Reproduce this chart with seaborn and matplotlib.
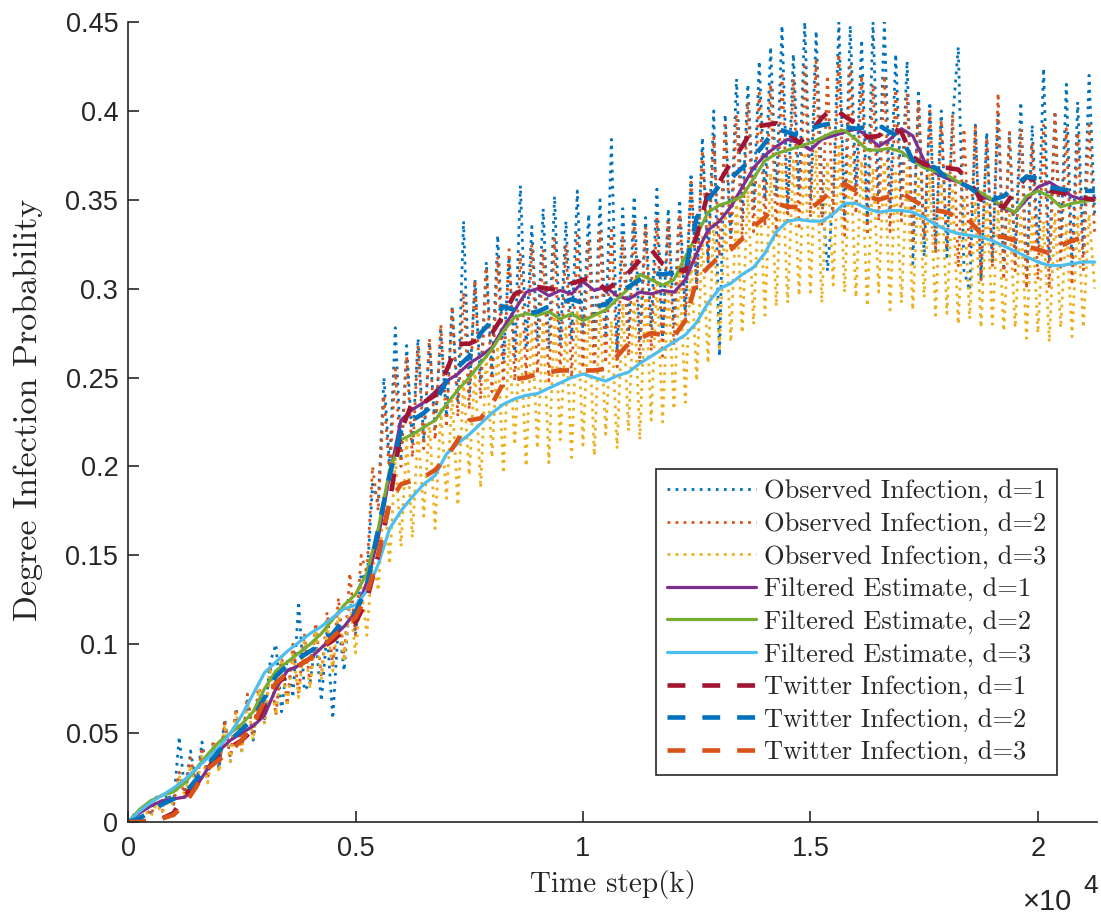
import numpy as np
import pandas as pd
import matplotlib
matplotlib.use("Agg")
import matplotlib.pyplot as plt
import seaborn as sns

# ---------------- data ----------------
# observed series sampled every 125 time steps (0 .. 21250)
t_obs = np.arange(0, 21251, 125)
obs_d1 = [
    0.000, 0.004, 0.002, 0.010, 0.005, 0.014, 0.008, 0.016,
    0.010, 0.048, 0.016, 0.040, 0.020, 0.045, 0.026, 0.044,
    0.030, 0.058, 0.034, 0.064, 0.040, 0.070, 0.046, 0.068,
    0.058, 0.090, 0.100, 0.062, 0.092, 0.070, 0.124, 0.074,
    0.078, 0.102, 0.068, 0.108, 0.058, 0.112, 0.085, 0.125,
    0.105, 0.140, 0.135, 0.190, 0.180, 0.250, 0.200, 0.278,
    0.205, 0.268, 0.212, 0.272, 0.215, 0.270, 0.222, 0.276,
    0.228, 0.290, 0.236, 0.338, 0.240, 0.305, 0.248, 0.315,
    0.252, 0.330, 0.260, 0.318, 0.262, 0.358, 0.268, 0.335,
    0.270, 0.345, 0.266, 0.352, 0.268, 0.338, 0.272, 0.355,
    0.275, 0.342, 0.268, 0.350, 0.272, 0.384, 0.265, 0.345,
    0.275, 0.352, 0.270, 0.340, 0.278, 0.356, 0.272, 0.345,
    0.280, 0.350, 0.285, 0.365, 0.300, 0.385, 0.315, 0.400,
    0.262, 0.398, 0.330, 0.418, 0.340, 0.415, 0.345, 0.428,
    0.350, 0.436, 0.352, 0.448, 0.345, 0.432, 0.355, 0.450,
    0.350, 0.445, 0.358, 0.310, 0.352, 0.450, 0.340, 0.448,
    0.355, 0.440, 0.338, 0.450, 0.350, 0.450, 0.345, 0.432,
    0.350, 0.428, 0.314, 0.412, 0.318, 0.405, 0.322, 0.400,
    0.318, 0.395, 0.436, 0.310, 0.299, 0.392, 0.305, 0.388,
    0.315, 0.398, 0.310, 0.388, 0.318, 0.405, 0.305, 0.392,
    0.320, 0.424, 0.315, 0.400, 0.325, 0.415, 0.312, 0.405,
    0.320, 0.420, 0.340,
]
obs_d2 = [
    0.000, 0.003, 0.001, 0.008, 0.004, 0.012, 0.006, 0.014,
    0.010, 0.028, 0.014, 0.036, 0.020, 0.042, 0.024, 0.046,
    0.030, 0.056, 0.036, 0.064, 0.042, 0.072, 0.048, 0.078,
    0.055, 0.088, 0.060, 0.094, 0.066, 0.100, 0.072, 0.106,
    0.078, 0.112, 0.082, 0.118, 0.088, 0.126, 0.092, 0.140,
    0.105, 0.150, 0.140, 0.200, 0.175, 0.240, 0.195, 0.255,
    0.200, 0.262, 0.205, 0.268, 0.210, 0.272, 0.215, 0.280,
    0.222, 0.290, 0.228, 0.298, 0.232, 0.305, 0.238, 0.312,
    0.242, 0.318, 0.245, 0.322, 0.248, 0.320, 0.250, 0.325,
    0.252, 0.322, 0.248, 0.328, 0.252, 0.325, 0.250, 0.330,
    0.255, 0.328, 0.252, 0.332, 0.258, 0.335, 0.256, 0.330,
    0.262, 0.338, 0.258, 0.335, 0.265, 0.340, 0.262, 0.338,
    0.268, 0.342, 0.280, 0.360, 0.300, 0.378, 0.315, 0.385,
    0.318, 0.392, 0.322, 0.398, 0.328, 0.405, 0.332, 0.410,
    0.335, 0.415, 0.330, 0.420, 0.338, 0.418, 0.335, 0.425,
    0.340, 0.428, 0.335, 0.420, 0.342, 0.432, 0.330, 0.425,
    0.342, 0.420, 0.330, 0.415, 0.338, 0.420, 0.332, 0.412,
    0.338, 0.410, 0.325, 0.405, 0.328, 0.400, 0.320, 0.395,
    0.322, 0.398, 0.312, 0.390, 0.318, 0.392, 0.305, 0.385,
    0.312, 0.410, 0.305, 0.388, 0.310, 0.390, 0.300, 0.382,
    0.305, 0.392, 0.300, 0.398, 0.312, 0.390, 0.302, 0.388,
    0.310, 0.392, 0.330,
]
obs_d3 = [
    0.000, 0.002, 0.001, 0.006, 0.003, 0.010, 0.005, 0.012,
    0.010, 0.026, 0.014, 0.032, 0.018, 0.038, 0.022, 0.044,
    0.028, 0.055, 0.034, 0.062, 0.040, 0.068, 0.046, 0.075,
    0.055, 0.085, 0.060, 0.092, 0.065, 0.096, 0.070, 0.102,
    0.075, 0.108, 0.080, 0.112, 0.085, 0.118, 0.090, 0.125,
    0.095, 0.132, 0.105, 0.150, 0.130, 0.185, 0.145, 0.205,
    0.155, 0.215, 0.160, 0.220, 0.172, 0.225, 0.165, 0.232,
    0.182, 0.240, 0.178, 0.248, 0.195, 0.255, 0.188, 0.262,
    0.205, 0.268, 0.196, 0.272, 0.212, 0.276, 0.200, 0.280,
    0.210, 0.282, 0.202, 0.285, 0.215, 0.278, 0.205, 0.288,
    0.212, 0.285, 0.206, 0.290, 0.218, 0.282, 0.210, 0.292,
    0.220, 0.298, 0.215, 0.300, 0.226, 0.305, 0.225, 0.302,
    0.232, 0.310, 0.236, 0.318, 0.248, 0.330, 0.258, 0.338,
    0.265, 0.342, 0.270, 0.350, 0.275, 0.355, 0.280, 0.360,
    0.285, 0.365, 0.290, 0.370, 0.292, 0.372, 0.296, 0.375,
    0.298, 0.378, 0.292, 0.372, 0.302, 0.380, 0.298, 0.376,
    0.295, 0.372, 0.290, 0.368, 0.298, 0.372, 0.288, 0.365,
    0.292, 0.368, 0.288, 0.362, 0.295, 0.365, 0.285, 0.360,
    0.286, 0.355, 0.280, 0.352, 0.283, 0.348, 0.278, 0.350,
    0.280, 0.345, 0.276, 0.342, 0.278, 0.340, 0.272, 0.342,
    0.275, 0.338, 0.270, 0.342, 0.278, 0.336, 0.273, 0.340,
    0.278, 0.342, 0.300,
]

# filtered estimates and twitter infection sampled every 250 steps
t_est = np.arange(0, 21251, 250)
filt_d1 = [
    0.000, 0.005, 0.009, 0.012, 0.013, 0.014, 0.020, 0.030,
    0.040, 0.046, 0.050, 0.054, 0.060, 0.075, 0.085, 0.088,
    0.092, 0.098, 0.104, 0.110, 0.118, 0.135, 0.160, 0.195,
    0.226, 0.232, 0.236, 0.242, 0.248, 0.252, 0.258, 0.262,
    0.267, 0.278, 0.288, 0.298, 0.300, 0.296, 0.299, 0.297,
    0.304, 0.299, 0.301, 0.296, 0.294, 0.298, 0.297, 0.299,
    0.298, 0.305, 0.320, 0.333, 0.338, 0.346, 0.357, 0.368,
    0.375, 0.380, 0.384, 0.382, 0.378, 0.384, 0.386, 0.388,
    0.390, 0.386, 0.380, 0.384, 0.390, 0.386, 0.372, 0.365,
    0.362, 0.360, 0.357, 0.352, 0.350, 0.345, 0.343, 0.350,
    0.357, 0.360, 0.356, 0.352, 0.350, 0.351,
]
filt_d2 = [
    0.000, 0.007, 0.012, 0.015, 0.017, 0.022, 0.030, 0.038,
    0.045, 0.050, 0.055, 0.062, 0.075, 0.085, 0.090, 0.095,
    0.100, 0.106, 0.114, 0.122, 0.128, 0.140, 0.165, 0.198,
    0.215, 0.218, 0.222, 0.226, 0.235, 0.243, 0.250, 0.258,
    0.266, 0.276, 0.284, 0.286, 0.285, 0.287, 0.283, 0.286,
    0.282, 0.285, 0.288, 0.294, 0.300, 0.308, 0.305, 0.302,
    0.305, 0.318, 0.330, 0.343, 0.347, 0.349, 0.352, 0.362,
    0.372, 0.376, 0.378, 0.380, 0.382, 0.385, 0.388, 0.389,
    0.384, 0.378, 0.378, 0.379, 0.377, 0.372, 0.368, 0.366,
    0.364, 0.360, 0.357, 0.354, 0.350, 0.346, 0.343, 0.352,
    0.355, 0.352, 0.346, 0.348, 0.349, 0.350,
]
filt_d3 = [
    0.000, 0.006, 0.011, 0.015, 0.019, 0.024, 0.030, 0.036,
    0.042, 0.050, 0.060, 0.072, 0.084, 0.090, 0.096, 0.101,
    0.106, 0.110, 0.115, 0.120, 0.122, 0.130, 0.145, 0.165,
    0.175, 0.183, 0.190, 0.195, 0.207, 0.213, 0.218, 0.224,
    0.230, 0.235, 0.238, 0.240, 0.241, 0.244, 0.247, 0.250,
    0.252, 0.250, 0.248, 0.251, 0.253, 0.258, 0.262, 0.266,
    0.270, 0.274, 0.281, 0.292, 0.300, 0.303, 0.308, 0.312,
    0.320, 0.332, 0.338, 0.339, 0.338, 0.338, 0.342, 0.348,
    0.348, 0.345, 0.343, 0.344, 0.344, 0.343, 0.340, 0.336,
    0.333, 0.331, 0.330, 0.329, 0.327, 0.324, 0.321, 0.318,
    0.315, 0.313, 0.313, 0.314, 0.315, 0.315,
]
tw_d1 = [
    0.000, 0.000, 0.001, 0.002, 0.005, 0.015, 0.022, 0.030,
    0.038, 0.042, 0.046, 0.052, 0.065, 0.078, 0.082, 0.088,
    0.092, 0.098, 0.102, 0.108, 0.112, 0.125, 0.150, 0.180,
    0.220, 0.236, 0.236, 0.240, 0.254, 0.269, 0.269, 0.272,
    0.275, 0.285, 0.297, 0.300, 0.301, 0.300, 0.299, 0.303,
    0.305, 0.306, 0.299, 0.304, 0.309, 0.316, 0.322, 0.314,
    0.311, 0.310, 0.330, 0.354, 0.360, 0.371, 0.380, 0.391,
    0.392, 0.393, 0.388, 0.382, 0.388, 0.396, 0.402, 0.397,
    0.393, 0.385, 0.386, 0.391, 0.388, 0.374, 0.370, 0.368,
    0.368, 0.367, 0.360, 0.350, 0.348, 0.346, 0.355, 0.363,
    0.360, 0.355, 0.354, 0.352, 0.351, 0.350,
]
tw_d2 = [
    0.000, 0.002, 0.006, 0.010, 0.013, 0.016, 0.024, 0.032,
    0.040, 0.046, 0.052, 0.058, 0.070, 0.082, 0.088, 0.092,
    0.096, 0.100, 0.106, 0.114, 0.118, 0.132, 0.165, 0.195,
    0.220, 0.226, 0.230, 0.236, 0.248, 0.256, 0.262, 0.275,
    0.282, 0.290, 0.288, 0.286, 0.287, 0.290, 0.292, 0.294,
    0.292, 0.290, 0.291, 0.298, 0.301, 0.305, 0.309, 0.308,
    0.309, 0.310, 0.340, 0.350, 0.358, 0.362, 0.368, 0.374,
    0.382, 0.390, 0.388, 0.386, 0.390, 0.392, 0.393, 0.391,
    0.390, 0.391, 0.392, 0.388, 0.385, 0.372, 0.370, 0.368,
    0.362, 0.360, 0.357, 0.352, 0.350, 0.352, 0.358, 0.363,
    0.362, 0.357, 0.356, 0.355, 0.355, 0.355,
]
tw_d3 = [
    0.000, 0.000, 0.001, 0.002, 0.004, 0.010, 0.020, 0.030,
    0.035, 0.040, 0.046, 0.055, 0.068, 0.078, 0.084, 0.088,
    0.092, 0.098, 0.104, 0.110, 0.115, 0.128, 0.150, 0.180,
    0.190, 0.192, 0.194, 0.198, 0.205, 0.215, 0.226, 0.227,
    0.235, 0.247, 0.249, 0.250, 0.252, 0.253, 0.254, 0.254,
    0.254, 0.254, 0.255, 0.262, 0.269, 0.272, 0.275, 0.274,
    0.273, 0.282, 0.305, 0.312, 0.318, 0.322, 0.328, 0.335,
    0.340, 0.348, 0.346, 0.346, 0.345, 0.350, 0.356, 0.359,
    0.355, 0.352, 0.350, 0.352, 0.354, 0.350, 0.346, 0.344,
    0.343, 0.340, 0.338, 0.331, 0.330, 0.329, 0.327, 0.324,
    0.322, 0.320, 0.324, 0.327, 0.329, 0.331,
]

labels = [
    "Observed Infection, d=1", "Observed Infection, d=2", "Observed Infection, d=3",
    "Filtered Estimate, d=1", "Filtered Estimate, d=2", "Filtered Estimate, d=3",
    "Twitter Infection, d=1", "Twitter Infection, d=2", "Twitter Infection, d=3",
]
x_ticks = [0, 5000, 10000, 15000, 20000]
x_ticklabels = ["0", "0.5", "1", "1.5", "2"]
y_ticks = [0, 0.05, 0.1, 0.15, 0.2, 0.25, 0.3, 0.35, 0.4, 0.45]
y_ticklabels = ["0", "0.05", "0.1", "0.15", "0.2", "0.25", "0.3", "0.35", "0.4", "0.45"]

# ---------------- style ----------------
sns.set_style("ticks")
plt.rcParams["font.family"] = ["Liberation Sans", "DejaVu Sans"]

c_blue, c_orange, c_yellow = "#0072BD", "#D95319", "#EDB120"
c_purple, c_green, c_lblue, c_dred = "#7E2F8E", "#77AC30", "#4DBEEE", "#A2142F"

fig = plt.figure(figsize=(11.01, 9.17), dpi=100)
ax = fig.add_axes([0.1163, 0.1036, 0.8801, 0.8724])

dot = (0, (1, 1.9))
dash = (0, (3.9, 3.7))

series = [
    (t_obs, obs_d1, c_blue, dot, 2.0),
    (t_obs, obs_d2, c_orange, dot, 2.0),
    (t_obs, obs_d3, c_yellow, dot, 2.0),
    (t_est, filt_d1, c_purple, "-", 2.3),
    (t_est, filt_d2, c_green, "-", 2.3),
    (t_est, filt_d3, c_lblue, "-", 2.3),
    (t_est, tw_d1, c_dred, dash, 3.3),
    (t_est, tw_d2, c_blue, dash, 3.3),
    (t_est, tw_d3, c_orange, dash, 3.3),
]
for (tx, vals, col, ls, lw), lab in zip(series, labels):
    df = pd.DataFrame({"t": tx, "p": vals})
    sns.lineplot(data=df, x="t", y="p", ax=ax, color=col, linestyle=ls,
                 linewidth=lw, label=lab, estimator=None, errorbar=None, sort=False)

ax.set_xlim(0, 21300)
ax.set_ylim(0, 0.45)
ax.set_xticks(x_ticks)
ax.set_xticklabels(x_ticklabels)
ax.set_yticks(y_ticks)
ax.set_yticklabels(y_ticklabels)
ax.tick_params(direction="in", length=8, width=1.2, color="#262626",
               labelsize=19.5, labelcolor="#262626")
ax.tick_params(axis="x", pad=10)
ax.tick_params(axis="y", pad=7)
for side in ["top", "right"]:
    ax.spines[side].set_visible(False)
for side in ["left", "bottom"]:
    ax.spines[side].set_color("#262626")
    ax.spines[side].set_linewidth(1.2)

ax.set_xlabel("Time step(k)", fontfamily="cmr10", fontsize=21, labelpad=6, color="#262626")
ax.set_ylabel("Degree Infection Probability", fontfamily="cmr10", fontsize=24.5,
              color="#262626")
ax.yaxis.set_label_coords(-0.088, 0.515)

fig.text(0.929, 0.008, "\u00d710", fontsize=21, color="#262626")
fig.text(0.984, 0.026, "4", fontsize=19, color="#262626")

leg = ax.legend(loc="lower right", bbox_to_anchor=(0.9587, 0.0588),
                prop={"family": "cmr10", "size": 19}, frameon=True, fancybox=False,
                edgecolor="#262626", handlelength=3.4, handletextpad=0.3,
                labelspacing=0.33, borderpad=0.4, borderaxespad=0.0)
leg.get_frame().set_linewidth(1.2)
leg.get_frame().set_alpha(1)

fig.savefig("out.png", dpi=100)
